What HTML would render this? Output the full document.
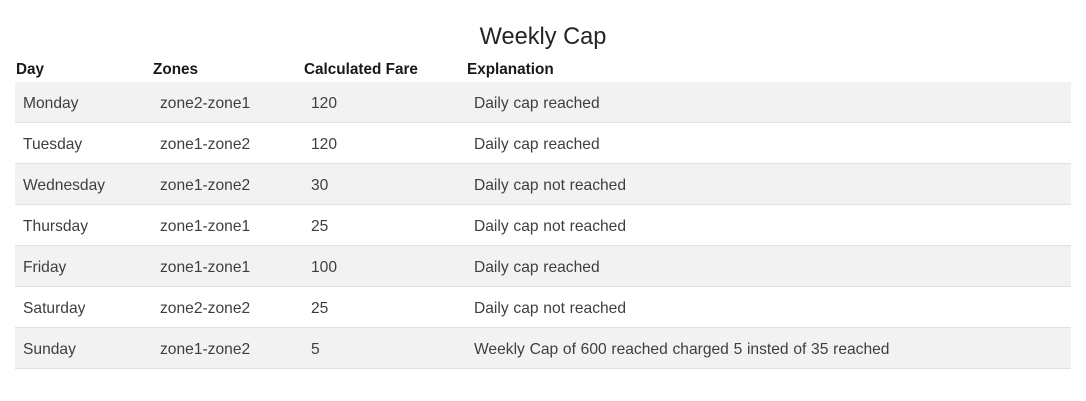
<!DOCTYPE html>
<html lang="en">
<head>
<meta charset="utf-8">
<title>Weekly Cap</title>
<style>
html,body{margin:0;padding:0;background:#fff;}
body{width:1086px;height:401px;position:relative;overflow:hidden;font-family:"Liberation Sans",Arial,sans-serif;color:#212529;}
#title{position:absolute;left:0;top:21px;width:1086px;text-align:center;font-size:23.6px;line-height:32px;font-weight:400;margin:0;}
#fare-table{position:absolute;left:15px;top:57px;width:1056px;border-collapse:separate;border-spacing:0;table-layout:fixed;font-size:15.6px;}
#fare-table th{height:25px;padding:2px 0 2px 1px;text-align:left;font-weight:700;font-size:15.3px;line-height:21px;box-sizing:border-box;color:#16191c;white-space:nowrap;}
#fare-table td{height:41px;padding:4px 0 0 8px;box-sizing:border-box;border-bottom:1px solid #dee2e6;color:#3b3f43;line-height:36px;white-space:nowrap;}
#fare-table td:last-child{word-spacing:.4px;}
#fare-table tbody tr:nth-child(odd) td{background:#f2f2f2;}
</style>
</head>
<body>
<h1 id="title">Weekly Cap</h1>
<table id="fare-table">
<colgroup><col style="width:137px"><col style="width:151px"><col style="width:163px"><col></colgroup>
<thead>
<tr>
<th>Day</th>
<th>Zones</th>
<th>Calculated Fare</th>
<th>Explanation</th>
</tr>
</thead>
<tbody>
<tr><td>Monday</td><td>zone2-zone1</td><td>120</td><td>Daily cap reached</td></tr>
<tr><td>Tuesday</td><td>zone1-zone2</td><td>120</td><td>Daily cap reached</td></tr>
<tr><td>Wednesday</td><td>zone1-zone2</td><td>30</td><td>Daily cap not reached</td></tr>
<tr><td>Thursday</td><td>zone1-zone1</td><td>25</td><td>Daily cap not reached</td></tr>
<tr><td>Friday</td><td>zone1-zone1</td><td>100</td><td>Daily cap reached</td></tr>
<tr><td>Saturday</td><td>zone2-zone2</td><td>25</td><td>Daily cap not reached</td></tr>
<tr><td>Sunday</td><td>zone1-zone2</td><td>5</td><td>Weekly Cap of 600 reached charged 5 insted of 35 reached</td></tr>
</tbody>
</table>
</body>
</html>
